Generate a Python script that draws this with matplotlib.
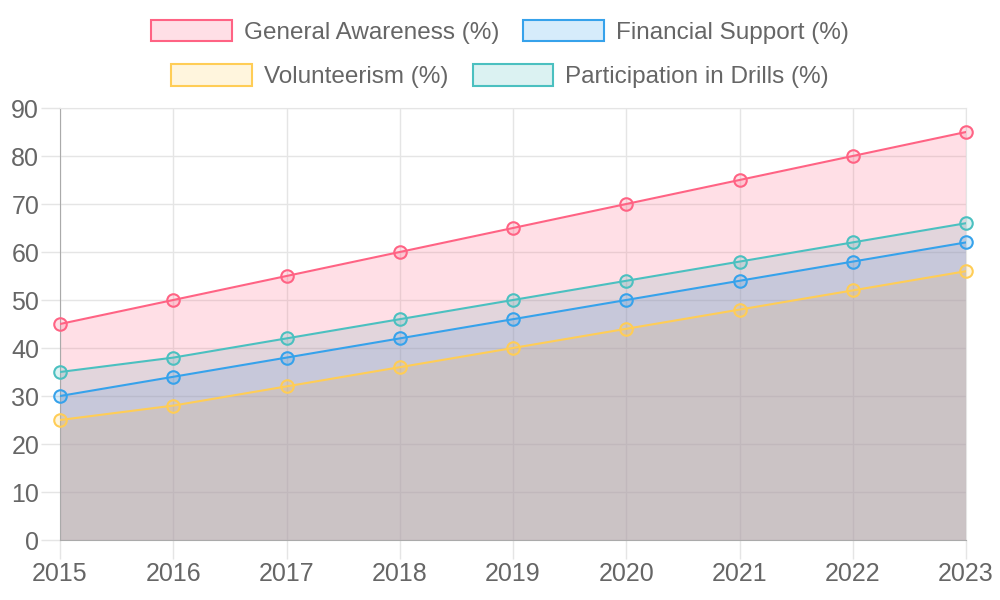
import matplotlib
matplotlib.use("Agg")
import matplotlib.pyplot as plt
from matplotlib.patches import Rectangle

plt.rcParams["font.family"] = ["Liberation Sans", "DejaVu Sans"]

years = [2015, 2016, 2017, 2018, 2019, 2020, 2021, 2022, 2023]
awareness = [45, 50, 55, 60, 65, 70, 75, 80, 85]
financial = [30, 34, 38, 42, 46, 50, 54, 58, 62]
volunteer = [25, 28, 32, 36, 40, 44, 48, 52, 56]
drills = [35, 38, 42, 46, 50, 54, 58, 62, 66]

series = [
    ("General Awareness (%)", awareness, (255 / 255, 99 / 255, 132 / 255)),
    ("Financial Support (%)", financial, (54 / 255, 162 / 255, 235 / 255)),
    ("Volunteerism (%)", volunteer, (255 / 255, 205 / 255, 86 / 255)),
    ("Participation in Drills (%)", drills, (75 / 255, 192 / 255, 192 / 255)),
]

fig = plt.figure(figsize=(10, 6), dpi=100)
ax = fig.add_axes([0.060, 0.10, 0.906, 0.72])

x = list(range(len(years)))
# fills: last dataset first, first dataset on top
for name, vals, col in series[::-1]:
    ax.fill_between(x, 0, vals, color=col, alpha=0.2, linewidth=0, zorder=1)
for name, vals, col in series[::-1]:
    ax.plot(x, vals, color=col, lw=1.5, zorder=3)
    ax.plot(x, vals, "o", ms=9, mfc=col + (0.2,), mec=col, mew=1.5, zorder=4,
            clip_on=False)

ax.set_xlim(0, len(years) - 1)
ax.set_ylim(0, 90)
ax.set_yticks(range(0, 91, 10))
ax.set_xticks(x)
ax.set_xticklabels([str(y) for y in years])

grid_c = "#e5e5e5"
ax.grid(True, color=grid_c, lw=1)
ax.set_axisbelow(True)
for s in ("top", "right"):
    ax.spines[s].set_color(grid_c)
for s in ("left", "bottom"):
    ax.spines[s].set_color("#aaaaaa")
ax.tick_params(axis="both", color=grid_c, width=1, length=14,
               labelcolor="#666666", labelsize=18)
ax.tick_params(axis="x", pad=2)
ax.tick_params(axis="y", pad=1)

def handle(col):
    return Rectangle((0, 0), 1, 1, facecolor=col + (0.2,), edgecolor=col, lw=1.5)

rows = [series[:2], series[2:]]
ys = [0.947, 0.873]
for row, yy in zip(rows, ys):
    leg = fig.legend([handle(c) for _, _, c in row], [n for n, _, _ in row],
                     loc="center", bbox_to_anchor=(0.5, yy), ncol=2, frameon=False,
                     fontsize=17.5, handlelength=3.3, handleheight=1.0,
                     handletextpad=0.5, columnspacing=1.0, borderpad=0)
    for t in leg.get_texts():
        t.set_color("#666666")

fig.savefig("out.png", dpi=100)
